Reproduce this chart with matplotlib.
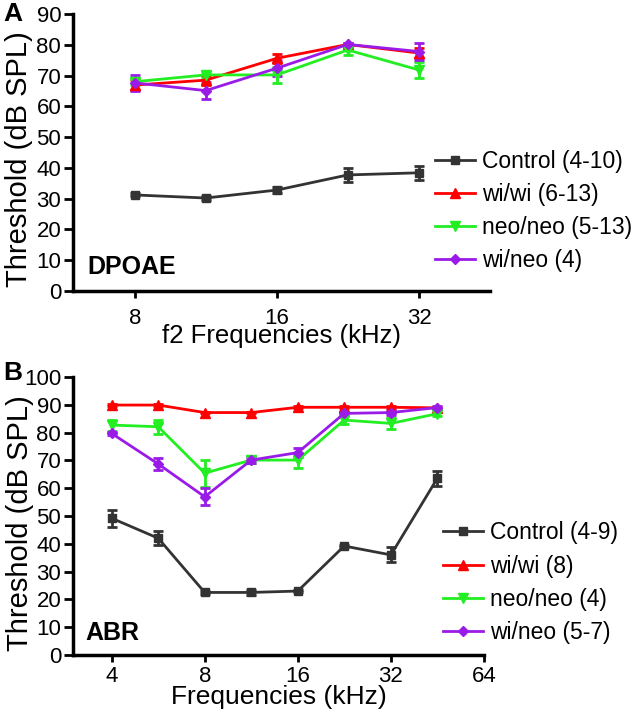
import matplotlib.pyplot as plt
import numpy as np

plt.rcParams['font.family'] = ['Liberation Sans', 'DejaVu Sans']

# Panel A - DPOAE
freq_a = [8, 11.3, 16, 22.6, 32]
ctrl_a = [31.2, 30.2, 32.8, 37.7, 38.4]
ctrl_a_err = [0.5, 0.5, 1, 2.4, 2.2]
wiwi_a = [66.9, 68.5, 75.6, 80.1, 77.3]
wiwi_a_err = [1.5, 1.5, 1.5, 0.5, 1.5]
neo_a = [68, 70.2, 70.2, 78.3, 71.8]
neo_a_err = [1, 1, 2.7, 1.6, 2.7]
wineo_a = [67.6, 65.1, 72.4, 80.1, 77.8]
wineo_a_err = [2.5, 2.7, 2.5, 0.5, 2.7]
labels_a = ['Control (4-10)', 'wi/wi (6-13)', 'neo/neo (5-13)', 'wi/neo (4)']

# Panel B - ABR
freq_b = [4, 5.66, 8, 11.3, 16, 22.6, 32, 45.25]
ctrl_b = [49.2, 42, 22.5, 22.5, 23, 39.2, 36, 63.6]
ctrl_b_err = [3, 2.5, 0.5, 1, 0.5, 0.5, 2.7, 2.7]
wiwi_b = [89.9, 89.9, 87.2, 87.2, 89.1, 89.1, 89.1, 88.9]
wiwi_b_err = [0.3, 0.3, 0.3, 0.3, 0.3, 0.3, 0.3, 0.3]
neo_b = [82.7, 82.1, 65.4, 70.1, 70.1, 84.5, 83.3, 86.8]
neo_b_err = [2, 2.5, 4.8, 1.2, 2.7, 1.5, 2, 1]
wineo_b = [79.7, 68.7, 56.9, 70.1, 72.8, 86.9, 87.2, 89]
wineo_b_err = [0.5, 2, 3, 1.2, 1.5, 0.5, 1, 0.5]
labels_b = ['Control (4-9)', 'wi/wi (8)', 'neo/neo (4)', 'wi/neo (5-7)']

colors = ['#333333', '#ff0000', '#22ee22', '#9a1be8']
markers = ['s', '^', 'v', 'D']
msizes = [5.5, 6.5, 6.5, 5]

fig = plt.figure(figsize=(6.33, 7.16), dpi=100)
ax_a = fig.add_axes([0.1153, 0.5936, 0.6588, 0.3869])
ax_b = fig.add_axes([0.1153, 0.0852, 0.6493, 0.3883])


def draw(ax, x, series, errs, labels):
    lines = []
    for i in range(4):
        c = ax.errorbar(x, series[i], yerr=errs[i], color=colors[i], marker=markers[i],
                        markersize=msizes[i], lw=2, elinewidth=2, capsize=3.5, capthick=2,
                        label=labels[i])
        lines.append(c[0])
    return lines


lines_a = draw(ax_a, freq_a, [ctrl_a, wiwi_a, neo_a, wineo_a],
               [ctrl_a_err, wiwi_a_err, neo_a_err, wineo_a_err], labels_a)
lines_b = draw(ax_b, freq_b, [ctrl_b, wiwi_b, neo_b, wineo_b],
               [ctrl_b_err, wiwi_b_err, neo_b_err, wineo_b_err], labels_b)

for ax in (ax_a, ax_b):
    ax.set_xscale('log', base=2)
    ax.spines['top'].set_visible(False)
    ax.spines['right'].set_visible(False)
    ax.spines['left'].set_linewidth(2.5)
    ax.spines['bottom'].set_linewidth(2.5)
    ax.tick_params(axis='y', which='major', length=6.5, width=2, labelsize=16, pad=2)
    ax.tick_params(axis='x', which='major', length=5, width=2, labelsize=16)
    ax.tick_params(axis='x', which='minor', length=0)
    ax.set_ylabel('Threshold (dB SPL)', fontsize=21)
    ax.yaxis.set_label_coords(-0.095, 0.475)

ax_a.set_xlim(5.91, 45.25)
ax_a.set_ylim(0, 90)
ax_a.set_xticks([8, 16, 32])
ax_a.set_xticklabels(['8', '16', '32'])
ax_a.set_yticks(np.arange(0, 91, 10))
ax_a.tick_params(axis='x', pad=7)
ax_a.set_xlabel('f2 Frequencies (kHz)', fontsize=18.5)
ax_a.xaxis.set_label_coords(0.5, -0.12)
ax_a.text(0.034, 0.087, 'DPOAE', transform=ax_a.transAxes, fontsize=18,
          fontweight='bold', va='center')

ax_b.set_xlim(3, 64)
ax_b.set_ylim(0, 100)
ax_b.set_xticks([4, 8, 16, 32, 64])
ax_b.set_xticklabels(['4', '8', '16', '32', '64'])
ax_b.set_yticks(np.arange(0, 101, 10))
ax_b.tick_params(axis='x', pad=3)
ax_b.set_xlabel('Frequencies (kHz)', fontsize=19)
ax_b.xaxis.set_label_coords(0.5, -0.107)
ax_b.text(0.029, 0.079, 'ABR', transform=ax_b.transAxes, fontsize=18,
          fontweight='bold', va='center')

for ax, lines, labels, anchor in ((ax_a, lines_a, labels_a, (0.687, 0.7053)),
                                  (ax_b, lines_b, labels_b, (0.700, 0.1858))):
    ax.legend(lines, labels, loc='center left', bbox_to_anchor=anchor,
              bbox_transform=fig.transFigure, frameon=False, fontsize=16.5,
              handlelength=1.75, handletextpad=0.3, labelspacing=0.45,
              borderaxespad=0, borderpad=0)

fig.text(0.005, 1 - 2 / 716, 'A', fontsize=19, fontweight='bold', va='top')
fig.text(0.005, 1 - 361 / 716, 'B', fontsize=19, fontweight='bold', va='top')

fig.savefig('out.png', dpi=100)
